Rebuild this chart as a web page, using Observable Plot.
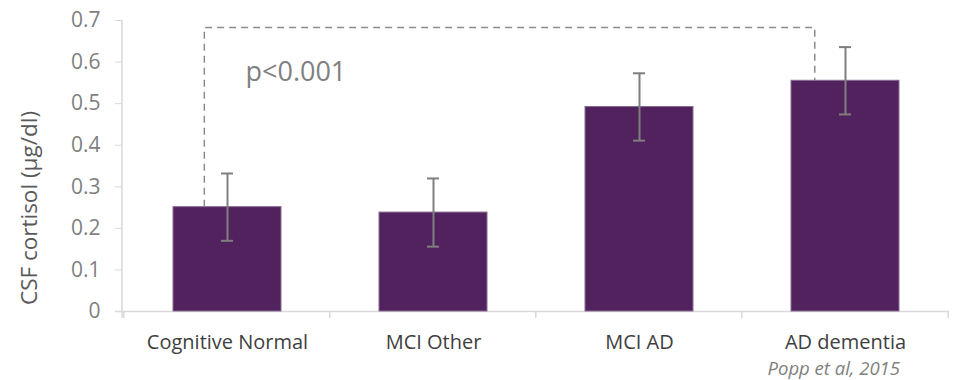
<!DOCTYPE html>
<html>
<head>
<meta charset="utf-8">
<script src="https://cdn.jsdelivr.net/npm/d3@7"></script>
<script src="https://cdn.jsdelivr.net/npm/@observablehq/plot@0.6"></script>
<style>
  html, body { margin: 0; padding: 0; background: #fff; }
  #wrap { position: relative; width: 960px; height: 380px; overflow: hidden; }
  #source {
    position: absolute; top: 356px; right: 60px;
    font-family: "Open Sans", sans-serif; font-style: italic;
    font-size: 18.5px; line-height: 24px; color: #7f7f7f;
  }
</style>
</head>
<body>
<div id="wrap">
  <div id="chart"></div>
  <div id="source">Popp et al, 2015</div>
</div>
<script>
// CSF cortisol by diagnostic group (mean ± error)
const groups = ["Cognitive Normal", "MCI Other", "MCI AD", "AD dementia"];
const means  = [0.251, 0.238, 0.492, 0.555];
const errors = [0.081, 0.082, 0.081, 0.081];
const yTicks = [0, 0.1, 0.2, 0.3, 0.4, 0.5, 0.6, 0.7];
const yTitle = "CSF cortisol (µg/dl)";

// significance bracket between the first and last group
const bracket = {from: "Cognitive Normal", to: "AD dementia", top: 0.682, label: "p<0.001", labelY: 0.575};

const rows = groups.map((g, i) => ({group: g, mean: means[i], err: errors[i]}));

const axisGrey = "#d9d9d9";
const barFill = "#52225e";
const errGrey = "#7f7f7f";

// band separators on the category axis and the y axis line
function axisLines(index, scales, values, dimensions) {
  const x = scales.x, y = scales.y;
  const step = x.step();
  const inner = x.paddingInner();
  const g = d3.create("svg:g").attr("stroke", axisGrey).attr("stroke-width", 1.5).attr("fill", "none");
  const y0 = y(0);
  // y axis line
  g.append("line")
    .attr("x1", dimensions.marginLeft).attr("x2", dimensions.marginLeft)
    .attr("y1", y(yTicks[yTicks.length - 1])).attr("y2", y0 + 7);
  // separators at band boundaries
  const bounds = groups.map(d => x(d) - step * inner / 2);
  bounds.push(x(groups[groups.length - 1]) + x.bandwidth() + step * inner / 2);
  bounds.forEach(bx => {
    g.append("line").attr("x1", bx).attr("x2", bx).attr("y1", y0).attr("y2", y0 + 7);
  });
  return g.node();
}

// dashed bracket joining the two compared bars
function bracketMark(index, scales) {
  const x = scales.x, y = scales.y;
  const bw = x.bandwidth();
  const iA = groups.indexOf(bracket.from), iB = groups.indexOf(bracket.to);
  const xa = x(bracket.from) + bw * 0.29;
  const xb = x(bracket.to) + bw * 0.22;
  const path = d3.path();
  path.moveTo(xa, y(means[iA]));
  path.lineTo(xa, y(bracket.top));
  path.lineTo(xb, y(bracket.top));
  path.lineTo(xb, y(means[iB]));
  return d3.create("svg:path")
    .attr("d", path.toString())
    .attr("fill", "none")
    .attr("stroke", "#8c8c8c")
    .attr("stroke-width", 1.5)
    .attr("stroke-dasharray", "7,5")
    .node();
}

const chart = Plot.plot({
  width: 960,
  height: 362,
  marginLeft: 122,
  marginRight: 11,
  marginTop: 20,
  marginBottom: 51,
  style: {fontFamily: "'Open Sans', sans-serif", fontSize: "20px", background: "#fff"},
  x: {domain: groups, paddingInner: 0.478, paddingOuter: 0.239, label: null},
  y: {domain: [0, 0.7], label: null},
  marks: [
    Plot.ruleY([0], {stroke: axisGrey, strokeWidth: 1.5, insetLeft: -7}),
    axisLines,
    Plot.axisY({ticks: yTicks, tickFormat: d3.format("~g"), tickSize: 7, tickPadding: 15,
      stroke: axisGrey, fill: "#7f7f7f", fontSize: 21, label: null}),
    Plot.axisX({tickSize: 0, tickPadding: 23, fill: "#404040", fontSize: 20, label: null}),
    Plot.text([yTitle], {frameAnchor: "left", rotate: -90, textAnchor: "middle", dx: -93, dy: 42,
      fill: "#595959", fontSize: 22.5}),
    Plot.barY(rows, {x: "group", y: "mean", fill: barFill, stroke: "#8a6c92", strokeWidth: 1}),
    bracketMark,
    Plot.ruleX(rows, {x: "group", y1: d => d.mean - d.err, y2: d => d.mean + d.err,
      stroke: errGrey, strokeWidth: 2}),
    Plot.tickY(rows, {x: "group", y: d => d.mean - d.err, stroke: errGrey, strokeWidth: 2,
      insetLeft: 48, insetRight: 48}),
    Plot.tickY(rows, {x: "group", y: d => d.mean + d.err, stroke: errGrey, strokeWidth: 2,
      insetLeft: 48, insetRight: 48}),
    Plot.text([bracket], {x: d => d.from, y: d => d.labelY, text: d => d.label,
      textAnchor: "start", dx: 18, fill: "#7f7f7f", fontSize: 27})
  ]
});

document.getElementById("chart").appendChild(chart);
</script>
</body>
</html>
